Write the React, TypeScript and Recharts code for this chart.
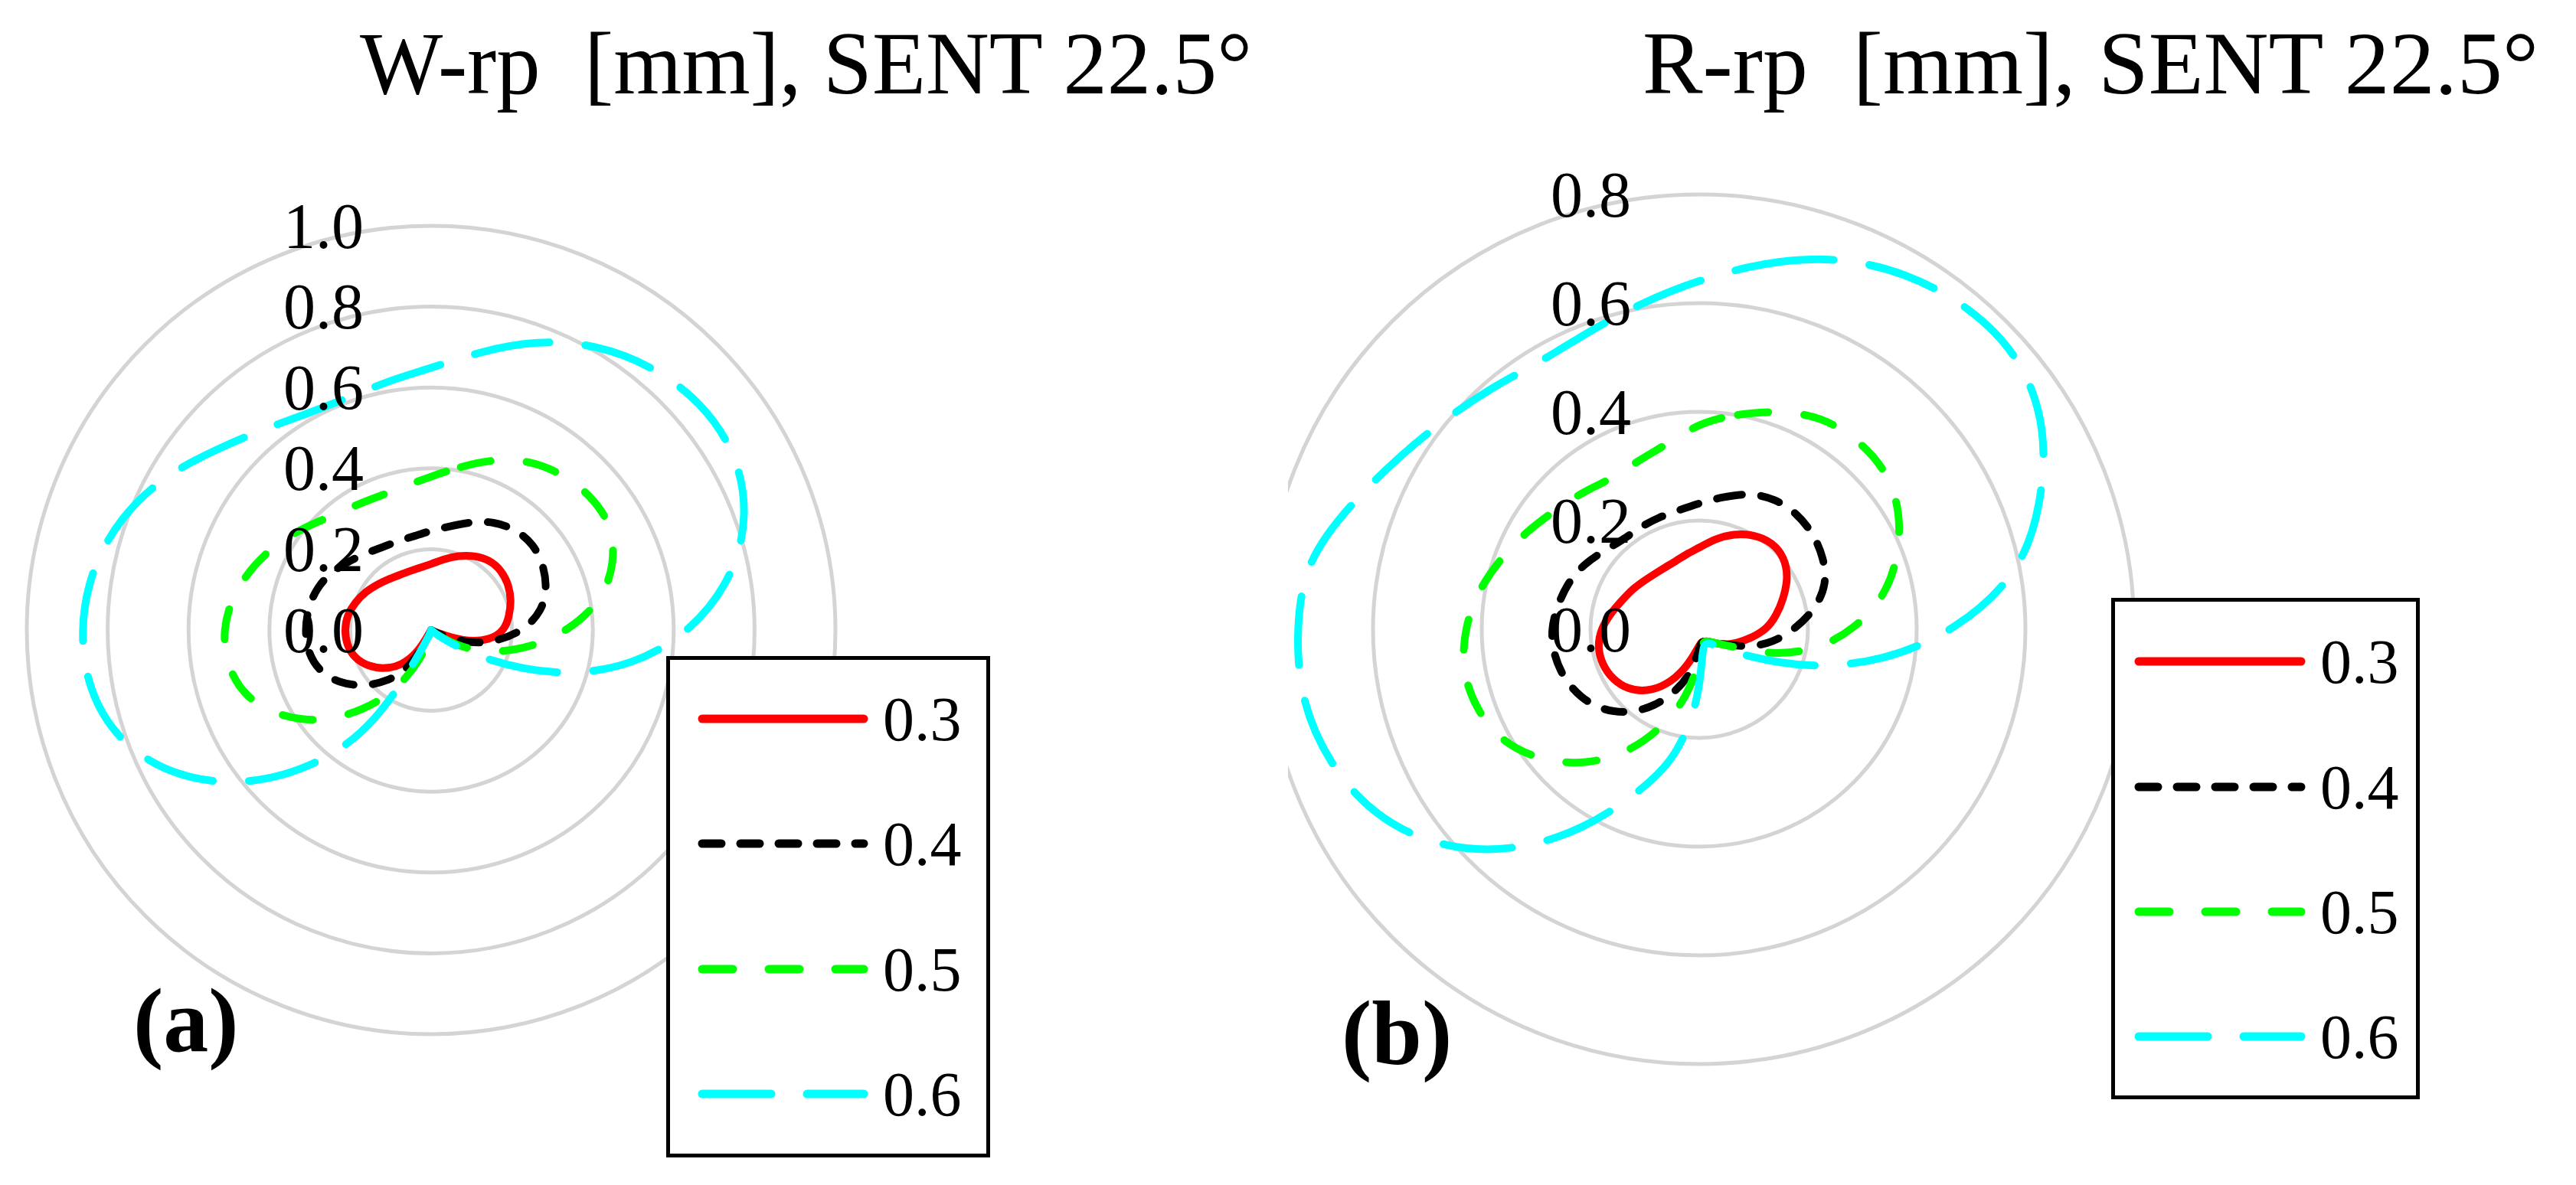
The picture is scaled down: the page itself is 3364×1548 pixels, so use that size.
import React from 'react';
import { RadarChart, Radar, PolarGrid, PolarAngleAxis, PolarRadiusAxis, Legend, Curve } from 'recharts';

// Bearings (degrees clockwise from the top) of the radar categories
const bearings = [0, 10, 20, 30, 40, 50, 60, 70, 80, 90, 100, 110, 120, 130, 140, 150, 160, 170,
  180, 190, 200, 210, 220, 230, 240, 250, 260, 270, 280, 290, 300, 310, 320, 330, 340, 350];

// Panel (a): W-rp [mm]
const wRp03 = [0.163, 0.178, 0.196, 0.213, 0.226, 0.228, 0.222, 0.211, 0.196, 0.182, 0.148, 0.085, 0.01, 0, 0, 0, 0, 0,
  0, 0, 0, 0.065, 0.115, 0.15, 0.18, 0.202, 0.212, 0.214, 0.211, 0.2, 0.188, 0.175, 0.164, 0.157, 0.155, 0.157];
const wRp04 = [0.246, 0.26, 0.285, 0.31, 0.325, 0.331, 0.321, 0.305, 0.279, 0.231, 0.165, 0.1, 0.02, 0, 0, 0, 0, 0,
  0, 0, 0.02, 0.11, 0.165, 0.218, 0.263, 0.296, 0.31, 0.312, 0.309, 0.302, 0.286, 0.265, 0.249, 0.237, 0.235, 0.236];
const wRp05 = [0.38, 0.41, 0.45, 0.485, 0.505, 0.517, 0.517, 0.483, 0.43, 0.343, 0.25, 0.165, 0.09, 0.02, 0, 0, 0, 0,
  0, 0.02, 0.08, 0.17, 0.26, 0.355, 0.43, 0.49, 0.513, 0.516, 0.498, 0.468, 0.436, 0.4, 0.372, 0.36, 0.355, 0.362];
const wRp06 = [0.648, 0.7, 0.763, 0.816, 0.853, 0.875, 0.873, 0.835, 0.759, 0.647, 0.51, 0.34, 0.15, 0.03, 0, 0, 0, 0,
  0, 0, 0.03, 0.27, 0.44, 0.6, 0.73, 0.82, 0.862, 0.869, 0.855, 0.818, 0.763, 0.695, 0.648, 0.617, 0.61, 0.625];

// Panel (b): R-rp [mm]
const rRp03 = [0.15, 0.169, 0.187, 0.201, 0.209, 0.205, 0.189, 0.165, 0.144, 0.124, 0.096, 0.074, 0.058, 0.04, 0.03, 0.025, 0.024, 0.024,
  0.03, 0.045, 0.079, 0.118, 0.15, 0.172, 0.184, 0.19, 0.19, 0.181, 0.166, 0.152, 0.144, 0.136, 0.131, 0.13, 0.132, 0.14];
const rRp04 = [0.232, 0.247, 0.267, 0.278, 0.279, 0.274, 0.264, 0.25, 0.218, 0.176, 0.138, 0.098, 0.055, 0.04, 0.03, 0.025, 0.024, 0.024,
  0.035, 0.08, 0.12, 0.164, 0.202, 0.232, 0.252, 0.265, 0.272, 0.273, 0.264, 0.256, 0.243, 0.226, 0.216, 0.217, 0.219, 0.222];
const rRp05 = [0.38, 0.402, 0.428, 0.452, 0.455, 0.452, 0.428, 0.39, 0.347, 0.285, 0.22, 0.14, 0.06, 0.04, 0.03, 0.025, 0.025, 0.03,
  0.06, 0.125, 0.19, 0.263, 0.325, 0.377, 0.418, 0.436, 0.443, 0.432, 0.413, 0.387, 0.364, 0.343, 0.331, 0.32, 0.33, 0.345];
const rRp06 = [0.643, 0.686, 0.73, 0.759, 0.775, 0.775, 0.738, 0.67, 0.6, 0.476, 0.345, 0.21, 0.1, 0.05, 0.035, 0.03, 0.03, 0.035,
  0.13, 0.24, 0.318, 0.427, 0.535, 0.626, 0.69, 0.725, 0.745, 0.742, 0.735, 0.68, 0.637, 0.606, 0.585, 0.572, 0.585, 0.61];

const seriesNames = ['0.3', '0.4', '0.5', '0.6'];
const seriesKeys = ['s03', 's04', 's05', 's06'];
const seriesColors = ['#ff0000', '#000000', '#00ff00', '#00ffff'];
const seriesDash = ['', '25 25', '40 47', '90 47'];

const titleA = 'W-rp  [mm], SENT 22.5°';
const titleB = 'R-rp  [mm], SENT 22.5°';
const ticksA = [0, 0.2, 0.4, 0.6, 0.8, 1.0];
const ticksB = [0, 0.2, 0.4, 0.6, 0.8];

const FONT = '"Liberation Serif", "Times New Roman", serif';

const buildData = (s1: number[], s2: number[], s3: number[], s4: number[]) =>
  bearings.map((b, i) => ({ b: String(b), s03: s1[i], s04: s2[i], s05: s3[i], s06: s4[i] }));

const dataA = buildData(wRp03, wRp04, wRp05, wRp06);
const dataB = buildData(rRp03, rRp04, rRp05, rRp06);

const makeTick = (offset: number) => (props: any) => {
  const { x, y, payload } = props;
  return (
    <text x={x - offset} y={y} textAnchor="end" dominantBaseline="central" fontSize={84}
      fontFamily={FONT} fill="#000">
      {Number(payload.value).toFixed(1)}
    </text>
  );
};

const makeLegend = (w: number, h: number, rows: number[], lx1: number, lx2: number, tx: number) => (props: any) => {
  const payload = props.payload || [];
  return (
    <svg width={w} height={h} style={{ display: 'block' }}>
      <rect x={2.5} y={2.5} width={w - 5} height={h - 5} fill="#ffffff" stroke="#000" strokeWidth={5} />
      {payload.map((p: any, i: number) => {
        const idx = seriesNames.indexOf(String(p.value));
        const k = idx >= 0 ? idx : i;
        return (
          <g key={k}>
            <line x1={lx1} x2={lx2} y1={rows[k]} y2={rows[k]} stroke={seriesColors[k]} strokeWidth={11}
              strokeLinecap="round" strokeDasharray={seriesDash[k] || undefined} />
            <text x={tx} y={rows[k]} dominantBaseline="central" fontSize={82} fontFamily={FONT} fill="#000">
              {seriesNames[k]}
            </text>
          </g>
        );
      })}
    </svg>
  );
};

// Smooth closed curve through the points that Recharts computed for the radar
const makeSmoothShape = (i: number) => (props: any) => {
  const pts = (props.points || []).map((p: any) => ({ x: p.x, y: p.y }));
  if (!pts.length) return <g />;
  return (
    <Curve type="basisClosed" points={pts} stroke={seriesColors[i]} strokeWidth={10} fill="none"
      strokeLinecap="round" strokeLinejoin="round" strokeDasharray={seriesDash[i] || undefined} />
  );
};

const renderSeries = () =>
  seriesKeys.map((key, i) => (
    <Radar key={key} dataKey={key} name={seriesNames[i]} stroke={seriesColors[i]} fill="none" fillOpacity={0}
      strokeWidth={10} strokeLinecap="round" strokeLinejoin="round"
      strokeDasharray={seriesDash[i] || undefined} dot={false} isAnimationActive={false}
      shape={makeSmoothShape(i)} />
  ));

const PANEL_W = 1682;
const H = 1548;

export default function App() {
  return (
    <div style={{ position: 'absolute', left: 0, top: 0, width: 3364, height: H, background: '#fff', overflow: 'hidden' }}>
      <svg width={3364} height={H} style={{ position: 'absolute', left: 0, top: 0 }}>
        <text x={470} y={122} fontSize={116} fontFamily={FONT} fill="#000" textLength={1165}
          lengthAdjust="spacingAndGlyphs" style={{ whiteSpace: 'pre' }}>{titleA}</text>
        <text x={2145} y={122} fontSize={116} fontFamily={FONT} fill="#000" textLength={1170}
          lengthAdjust="spacingAndGlyphs" style={{ whiteSpace: 'pre' }}>{titleB}</text>
        <text x={174} y={1373} fontSize={118} fontFamily={FONT} fontWeight="bold" fill="#000">(a)</text>
        <text x={1752} y={1389} fontSize={118} fontFamily={FONT} fontWeight="bold" fill="#000">(b)</text>
      </svg>

      <div style={{ position: 'absolute', left: 0, top: 0 }}>
        <RadarChart width={PANEL_W} height={H} data={dataA} cx={563} cy={823} outerRadius={528}
          margin={{ top: 0, right: 0, bottom: 0, left: 0 }}>
          <PolarGrid gridType="circle" radialLines={false} stroke="#d4d4d4" strokeWidth={5} />
          <PolarAngleAxis dataKey="b" tick={false} axisLine={false} />
          <PolarRadiusAxis angle={90} type="number" scale="linear" domain={[0, 1]} ticks={ticksA}
            tickCount={6} allowDataOverflow axisLine={false} tick={makeTick(88)} />
          {renderSeries()}
          <Legend content={makeLegend(423, 655, [82, 245, 409, 572], 47, 258, 283)}
            wrapperStyle={{ position: 'absolute', left: 870, top: 857, width: 423, height: 655, margin: 0, padding: 0 }} />
        </RadarChart>
      </div>

      <div style={{ position: 'absolute', left: PANEL_W, top: 0 }}>
        <RadarChart width={PANEL_W} height={H} data={dataB} cx={2219 - PANEL_W} cy={822} outerRadius={710}
          margin={{ top: 0, right: 0, bottom: 0, left: 0 }}>
          <PolarGrid gridType="circle" radialLines={false} stroke="#d4d4d4" strokeWidth={5} />
          <PolarAngleAxis dataKey="b" tick={false} axisLine={false} />
          <PolarRadiusAxis angle={90} type="number" scale="linear" domain={[0, 1]} ticks={ticksB}
            tickCount={5} allowDataOverflow axisLine={false} tick={makeTick(89)} />
          {renderSeries()}
          <Legend content={makeLegend(403, 655, [83, 247, 410, 573], 36, 248, 273)}
            wrapperStyle={{ position: 'absolute', left: 2757 - PANEL_W, top: 781, width: 403, height: 655, margin: 0, padding: 0 }} />
        </RadarChart>
      </div>
    </div>
  );
}
